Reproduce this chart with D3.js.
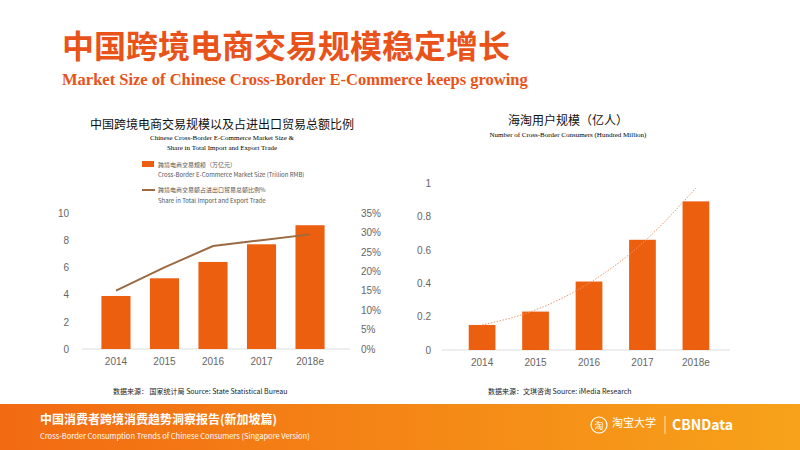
<!DOCTYPE html>
<html><head><meta charset="utf-8">
<script src="https://cdn.jsdelivr.net/npm/d3@7"></script>
<style>body{margin:0;background:#fff}svg{display:block;font-family:"Noto Sans CJK SC","Noto Sans",sans-serif}</style>
</head><body><svg id="c" width="800" height="450"></svg>
<script>
const years = ["2014", "2015", "2016", "2017", "2018e"];
const marketSize = [3.9, 5.2, 6.4, 7.7, 9.1];
const tradeShare = [0.15, 0.21, 0.265, 0.28, 0.295];
const consumers = [0.15, 0.23, 0.41, 0.66, 0.89];
const consumerTrend = [0.15, 0.24, 0.40, 0.64, 0.97];
const leftTicks = [0, 2, 4, 6, 8, 10];
const shareTicks = [0, 0.05, 0.1, 0.15, 0.2, 0.25, 0.3, 0.35];
const rightTicks = [0, 0.2, 0.4, 0.6, 0.8, 1];

const orange = "#ec5f0e";
const svg = d3.select("#c");

const defs = svg.append("defs");
const fg = defs.append("linearGradient").attr("id", "foot");
fg.append("stop").attr("offset", "0%").attr("stop-color", "#f26a12");
fg.append("stop").attr("offset", "100%").attr("stop-color", "#f7a21a");

svg.append("text").attr("x", 62).attr("y", 58).text("中国跨境电商交易规模稳定增长")
  .attr("fill", "#e9531a").style("font-size", "32px").style("font-weight", "bold");
svg.append("text").attr("x", 62).attr("y", 85).text("Market Size of Chinese Cross-Border E-Commerce keeps growing")
  .attr("fill", "#e9531a").style("font-family", "Liberation Serif").style("font-size", "16.5px").style("font-weight", "bold");

// Left chart
const lx = d3.scaleBand().domain(years).range([82, 344]).padding(0.4);
const ly = d3.scaleLinear().domain([0, 10]).range([349, 213]);
const ls = d3.scaleLinear().domain([0, 0.35]).range([349, 213]);
const L = svg.append("g");
L.append("text").attr("x", 222).attr("y", 129).attr("text-anchor", "middle").text("中国跨境电商交易规模以及占进出口贸易总额比例")
  .style("font-size", "12px").attr("fill", "#111");
L.append("text").attr("x", 222).attr("y", 140).attr("text-anchor", "middle").text("Chinese Cross-Border E-Commerce Market Size &")
  .style("font-family", "Liberation Serif").style("font-size", "7px");
L.append("text").attr("x", 222).attr("y", 150).attr("text-anchor", "middle").text("Share in Total Import and Export Trade")
  .style("font-family", "Liberation Serif").style("font-size", "7px");
L.append("rect").attr("x", 142).attr("y", 161).attr("width", 12).attr("height", 6).attr("fill", orange);
L.append("text").attr("x", 158).attr("y", 167).text("跨境电商交易规模（万亿元）").style("font-size", "6px").attr("fill", "#555");
L.append("text").attr("x", 158).attr("y", 177).text("Cross-Border E-Commerce Market Size (Trillion RMB)").style("font-size", "6px").attr("fill", "#555");
L.append("line").attr("x1", 142).attr("x2", 155).attr("y1", 190).attr("y2", 190).attr("stroke", "#9b6a43").attr("stroke-width", 2);
L.append("text").attr("x", 158).attr("y", 192).text("跨境电商交易额占进出口贸易总额比例%").style("font-size", "6px").attr("fill", "#555");
L.append("text").attr("x", 158).attr("y", 203).text("Share in Total Import and Export Trade").style("font-size", "6px").attr("fill", "#555");
L.append("line").attr("x1", 82).attr("x2", 350).attr("y1", ly(0)).attr("y2", ly(0)).attr("stroke", "#ddd");
L.selectAll("rect.b").data(years).join("rect").attr("class", "b")
  .attr("x", d => lx(d)).attr("width", lx.bandwidth())
  .attr("y", (d, i) => ly(marketSize[i])).attr("height", (d, i) => ly(0) - ly(marketSize[i])).attr("fill", orange);
L.append("path").datum(tradeShare)
  .attr("d", d3.line().x((d, i) => lx(years[i]) + lx.bandwidth() / 2).y(d => ls(d)))
  .attr("fill", "none").attr("stroke", "#9b6a43").attr("stroke-width", 2);
const la = L.append("g").attr("transform", "translate(72,0)").call(d3.axisLeft(ly).tickValues(leftTicks).tickSize(0));
const ra = L.append("g").attr("transform", "translate(358,0)").call(d3.axisRight(ls).tickValues(shareTicks).tickSize(0).tickFormat(d3.format(".0%")));
const ba = L.append("g").attr("transform", `translate(0,${ly(0) + 6})`).call(d3.axisBottom(lx).tickSize(0));
[la, ra, ba].forEach(a => { a.select(".domain").remove(); a.selectAll("text").attr("fill", "#666").style("font-size", "10px"); });
L.append("text").attr("x", 113).attr("y", 394).text("数据来源：  国家统计局   Source: State Statistical Bureau").style("font-size", "7px").attr("fill", "#222");

// Right chart
const rx = d3.scaleBand().domain(years).range([442, 736]).padding(0.5);
const ry = d3.scaleLinear().domain([0, 1]).range([350, 183]);
const R = svg.append("g");
R.append("text").attr("x", 568).attr("y", 125).attr("text-anchor", "middle").text("海淘用户规模（亿人）").style("font-size", "12px").attr("fill", "#111");
R.append("text").attr("x", 568).attr("y", 137).attr("text-anchor", "middle").text("Number of Cross-Border Consumers (Hundred Million)")
  .style("font-family", "Liberation Serif").style("font-size", "7px");
R.append("line").attr("x1", 442).attr("x2", 730).attr("y1", ry(0)).attr("y2", ry(0)).attr("stroke", "#ddd");
R.selectAll("rect").data(years).join("rect")
  .attr("x", d => rx(d)).attr("width", rx.bandwidth())
  .attr("y", (d, i) => ry(consumers[i])).attr("height", (d, i) => ry(0) - ry(consumers[i])).attr("fill", orange);
R.append("path").datum(consumerTrend)
  .attr("d", d3.line().x((d, i) => rx(years[i]) + rx.bandwidth() / 2).y(d => ry(d)).curve(d3.curveMonotoneX))
  .attr("fill", "none").attr("stroke", "#f0956a").attr("stroke-width", 1).attr("stroke-dasharray", "1.5,1.5");
const ya = R.append("g").attr("transform", "translate(434,0)").call(d3.axisLeft(ry).tickValues(rightTicks).tickSize(0).tickFormat(d => d));
const xa = R.append("g").attr("transform", `translate(0,${ry(0) + 6})`).call(d3.axisBottom(rx).tickSize(0));
[ya, xa].forEach(a => { a.select(".domain").remove(); a.selectAll("text").attr("fill", "#666").style("font-size", "10px"); });
R.append("text").attr("x", 488).attr("y", 394).text("数据来源：文琪咨询      Source: iMedia Research").style("font-size", "7px").attr("fill", "#222");

// Footer
svg.append("rect").attr("x", 0).attr("y", 404).attr("width", 800).attr("height", 46).attr("fill", "url(#foot)");
svg.append("text").attr("x", 40).attr("y", 424).text("中国消费者跨境消费趋势洞察报告(新加坡篇)").attr("fill", "#fff").style("font-size", "12px").style("font-weight", "bold");
svg.append("text").attr("x", 40).attr("y", 439).text("Cross-Border  Consumption  Trends of Chinese Consumers (Singapore  Version)").attr("fill", "#fff").style("font-size", "7.5px");
svg.append("circle").attr("cx", 599).attr("cy", 425).attr("r", 8).attr("fill", "none").attr("stroke", "#fff").attr("stroke-width", 1.2);
svg.append("text").attr("x", 599).attr("y", 429).attr("text-anchor", "middle").text("淘").attr("fill", "#fff").style("font-size", "9px");
svg.append("text").attr("x", 612).attr("y", 427).text("淘宝大学").attr("fill", "#fff").style("font-size", "11px");
svg.append("line").attr("x1", 665).attr("x2", 665).attr("y1", 416).attr("y2", 434).attr("stroke", "#fff").attr("stroke-opacity", 0.7);
svg.append("text").attr("x", 672).attr("y", 430).text("CBNData").attr("fill", "#fff").style("font-size", "14px").style("font-weight", "bold");
</script></body></html>
